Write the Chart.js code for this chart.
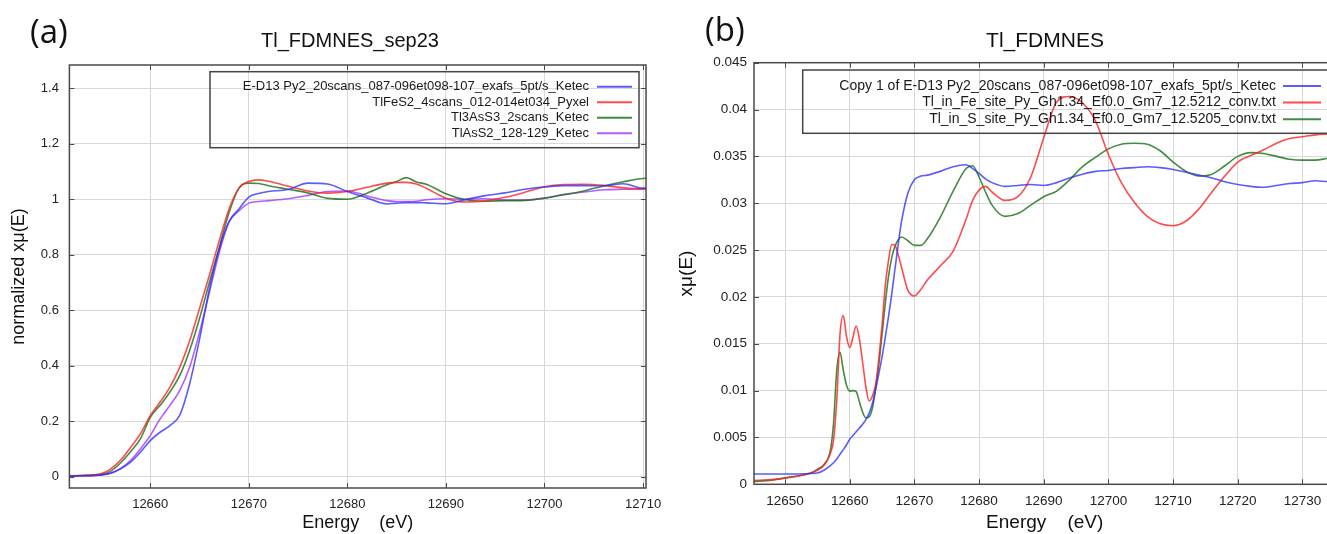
<!DOCTYPE html>
<html>
<head>
<meta charset="utf-8">
<script src="https://cdn.jsdelivr.net/npm/chart.js@4.4.1/dist/chart.umd.min.js"></script>
<style>
  html, body { margin:0; padding:0; background:#fff; width:1327px; height:534px; overflow:hidden; }
  .panel { position:absolute; top:0; height:534px; }
  #wrapA { left:0; width:680px; }
  #wrapB { left:660px; width:700px; }
  .tag { position:absolute; font-family:'Open Sans', sans-serif; color:#111; white-space:nowrap; z-index:2; }
  .title { position:absolute; font-family:'Liberation Sans', Arial, sans-serif; color:#111; white-space:nowrap; transform:translateX(-50%); z-index:2; }
</style>
</head>
<body>
<div class="tag" style="left:30px; top:14px; font-size:33px; line-height:33px;">(a)</div>
<div class="title" style="left:350px; top:29.5px; font-size:20px; line-height:20px;">Tl_FDMNES_sep23</div>
<div class="tag" style="left:705px; top:12px; font-size:33px; line-height:33px;">(b)</div>
<div class="title" style="left:1045px; top:29px; font-size:21px; line-height:21px;">Tl_FDMNES</div>
<div class="panel" id="wrapA"><canvas id="chartA" width="680" height="534"></canvas></div>
<div class="panel" id="wrapB"><canvas id="chartB" width="700" height="534"></canvas></div>
<script>
// ---- panel (a): normalized spectra ----
const energiesA = [12651, 12653, 12655, 12656, 12657, 12658, 12659, 12660, 12661, 12662, 12663, 12664, 12665, 12666, 12667, 12668, 12669, 12670, 12671, 12672, 12674, 12676, 12678, 12680, 12682, 12684, 12685, 12686, 12687, 12688, 12690, 12692, 12694, 12696, 12698, 12700, 12702, 12704, 12706, 12708, 12710, 12711];
const pyriteA = [0.002, 0.003, 0.006, 0.012, 0.028, 0.052, 0.088, 0.13, 0.16, 0.184, 0.222, 0.335, 0.495, 0.676, 0.82, 0.92, 0.965, 1.008, 1.021, 1.028, 1.035, 1.058, 1.055, 1.028, 1.005, 0.983, 0.986, 0.988, 0.988, 0.987, 0.984, 0.999, 1.013, 1.023, 1.036, 1.044, 1.049, 1.049, 1.048, 1.056, 1.04, 1.04];
const tlfes2A = [0.003, 0.004, 0.01, 0.028, 0.06, 0.105, 0.154, 0.22, 0.269, 0.323, 0.395, 0.49, 0.606, 0.726, 0.85, 0.965, 1.04, 1.064, 1.07, 1.065, 1.047, 1.03, 1.022, 1.028, 1.043, 1.058, 1.061, 1.061, 1.055, 1.04, 1.004, 0.99, 0.994, 1.007, 1.025, 1.045, 1.053, 1.054, 1.05, 1.041, 1.037, 1.037];
const tl3ass3A = [0.003, 0.004, 0.008, 0.02, 0.05, 0.09, 0.136, 0.214, 0.257, 0.305, 0.365, 0.455, 0.57, 0.70, 0.826, 0.952, 1.04, 1.058, 1.057, 1.049, 1.036, 1.023, 1.003, 1.0, 1.022, 1.052, 1.064, 1.078, 1.062, 1.054, 1.02, 0.998, 0.993, 0.995, 0.996, 1.004, 1.016, 1.03, 1.048, 1.063, 1.075, 1.076];
const tlass2A = [0.002, 0.003, 0.006, 0.013, 0.03, 0.058, 0.1, 0.148, 0.208, 0.257, 0.311, 0.395, 0.52, 0.664, 0.808, 0.918, 0.958, 0.986, 0.992, 0.995, 1.002, 1.014, 1.028, 1.03, 1.012, 0.995, 0.992, 0.992, 0.993, 0.998, 1.002, 1.0, 1.002, 0.997, 0.997, 1.004, 1.018, 1.026, 1.034, 1.036, 1.037, 1.037];
const labelsA = ['E-D13 Py2_20scans_087-096et098-107_exafs_5pt/s_Ketec', 'TlFeS2_4scans_012-014et034_Pyxel', 'Tl3AsS3_2scans_Ketec', 'TlAsS2_128-129_Ketec'];
const xTicksA = [12660, 12670, 12680, 12690, 12700, 12710];
const yTicksA = [0, 0.2, 0.4, 0.6, 0.8, 1, 1.2, 1.4];
const yLabelsA = ['0', '0.2', '0.4', '0.6', '0.8', '1', '1.2', '1.4'];

// ---- panel (b): experiment vs FDMNES ----
const energiesB = [12645, 12648, 12651, 12654, 12655, 12656, 12657, 12657.5, 12658, 12658.5, 12659, 12659.5, 12660, 12660.5, 12661, 12661.5, 12662, 12662.5, 12663, 12663.5, 12664, 12664.5, 12665, 12665.5, 12666, 12666.5, 12667, 12667.5, 12668, 12669, 12670, 12671, 12672, 12674, 12676, 12678, 12679, 12680, 12681, 12682, 12684, 12686, 12688, 12690, 12692, 12694, 12696, 12698, 12700, 12702, 12704, 12706, 12708, 12710, 12712, 12714, 12716, 12718, 12720, 12722, 12724, 12726, 12728, 12730, 12732, 12734, 12736];
const pyriteB = [0.0011, 0.0011, 0.0011, 0.00115, 0.0012, 0.0015, 0.002, 0.0023, 0.0027, 0.0032, 0.0037, 0.0042, 0.0048, 0.0052, 0.0056, 0.006, 0.0064, 0.0069, 0.0076, 0.0086, 0.0101, 0.0118, 0.0136, 0.0157, 0.0179, 0.0203, 0.023, 0.0256, 0.028, 0.0311, 0.0325, 0.0329, 0.033, 0.0334, 0.0339, 0.0341, 0.0337, 0.0332, 0.0326, 0.0322, 0.0318, 0.0319, 0.032, 0.0319, 0.0322, 0.0327, 0.0331, 0.0334, 0.0335, 0.0337, 0.0338, 0.0339, 0.0338, 0.0336, 0.0333, 0.033, 0.0327, 0.0323, 0.032, 0.0318, 0.0317, 0.0319, 0.0321, 0.0322, 0.0324, 0.0323, 0.0323];
const feSiteB = [0.0004, 0.0005, 0.00075, 0.0012, 0.0015, 0.002, 0.0033, 0.0047, 0.009, 0.016, 0.018, 0.0158, 0.0146, 0.0157, 0.0169, 0.0155, 0.013, 0.0104, 0.0089, 0.0094, 0.0106, 0.0134, 0.017, 0.0212, 0.0239, 0.0256, 0.0255, 0.0245, 0.0232, 0.0207, 0.0201, 0.0208, 0.0218, 0.0233, 0.0249, 0.0283, 0.0303, 0.0314, 0.0318, 0.0312, 0.0303, 0.0307, 0.0328, 0.037, 0.0408, 0.0414, 0.0407, 0.0388, 0.0352, 0.0322, 0.0301, 0.0286, 0.0278, 0.0276, 0.0281, 0.0294, 0.0312, 0.0329, 0.0344, 0.0351, 0.0357, 0.0364, 0.0369, 0.0371, 0.0373, 0.0374, 0.0375];
const sSiteB = [0.0003, 0.00045, 0.0008, 0.0012, 0.0016, 0.0021, 0.0036, 0.0065, 0.0122, 0.0141, 0.0122, 0.0106, 0.00995, 0.01, 0.0099, 0.0088, 0.0077, 0.0071, 0.0072, 0.0081, 0.0102, 0.0128, 0.016, 0.0193, 0.0222, 0.0242, 0.0254, 0.0261, 0.0264, 0.026, 0.0255, 0.0255, 0.0262, 0.0285, 0.0313, 0.0337, 0.034, 0.0328, 0.0312, 0.0298, 0.0286, 0.0289, 0.0298, 0.0307, 0.0313, 0.0325, 0.0339, 0.0349, 0.0358, 0.0363, 0.0364, 0.0363, 0.0356, 0.0344, 0.0334, 0.0329, 0.0331, 0.034, 0.035, 0.0354, 0.0353, 0.035, 0.0347, 0.0346, 0.0346, 0.0348, 0.0349];
const labelsB = ['Copy 1 of E-D13 Py2_20scans_087-096et098-107_exafs_5pt/s_Ketec', 'Tl_in_Fe_site_Py_Gh1.34_Ef0.0_Gm7_12.5212_conv.txt', 'Tl_in_S_site_Py_Gh1.34_Ef0.0_Gm7_12.5205_conv.txt'];
const xTicksB = [12650, 12660, 12670, 12680, 12690, 12700, 12710, 12720, 12730];
const yTicksB = [0, 0.005, 0.01, 0.015, 0.02, 0.025, 0.03, 0.035, 0.04, 0.045];
const yLabelsB = ['0', '0.005', '0.01', '0.015', '0.02', '0.025', '0.03', '0.035', '0.04', '0.045'];

const FONT = "'Liberation Sans', Arial, sans-serif";
const BLUE = 'rgba(45,45,255,0.78)', RED = 'rgba(255,35,35,0.82)', GREEN = 'rgba(25,115,25,0.82)', PURPLE = 'rgba(165,55,255,0.82)';

function pts(xs, ys) { return xs.map((x, i) => ({x: x, y: ys[i]})); }
function line(label, color, data) {
  return { label: label, data: data, borderColor: color, borderWidth: 1.6, pointRadius: 0, fill: false, cubicInterpolationMode: 'monotone' };
}

// frame + inward tick marks on all four sides
const framePlugin = {
  id: 'frame',
  afterDatasetsDraw(chart) {
    const {ctx, chartArea: a, scales: {x, y}} = chart;
    ctx.save();
    ctx.strokeStyle = '#4a4a4a';
    ctx.lineWidth = 1;
    ctx.beginPath();
    x.ticks.forEach(t => {
      const px = Math.round(x.getPixelForValue(t.value)) + 0.5;
      ctx.moveTo(px, a.bottom); ctx.lineTo(px, a.bottom - 5);
      ctx.moveTo(px, a.top); ctx.lineTo(px, a.top + 5);
    });
    y.ticks.forEach(t => {
      const py = Math.round(y.getPixelForValue(t.value)) + 0.5;
      ctx.moveTo(a.left, py); ctx.lineTo(a.left + 5, py);
      ctx.moveTo(a.right, py); ctx.lineTo(a.right - 5, py);
    });
    ctx.stroke();
    ctx.lineWidth = 1.5;
    ctx.strokeRect(a.left, a.top, a.right - a.left, a.bottom - a.top);
    ctx.restore();
  }
};

// boxed legend, text right-aligned with the line sample on its right
const boxLegend = {
  id: 'boxLegend',
  afterDatasetsDraw(chart, args, o) {
    const ctx = chart.ctx;
    ctx.save();
    ctx.strokeStyle = '#444';
    ctx.lineWidth = 1.5;
    ctx.strokeRect(o.left, o.top, o.right - o.left, o.bottom - o.top);
    ctx.font = o.size + 'px ' + FONT;
    ctx.textAlign = 'right';
    ctx.textBaseline = 'middle';
    chart.data.datasets.forEach((ds, i) => {
      const yy = o.row0 + i * o.step;
      ctx.fillStyle = '#1a1a1a';
      ctx.fillText(ds.label, o.textRight, yy);
      ctx.strokeStyle = ds.borderColor;
      ctx.lineWidth = 2;
      ctx.beginPath(); ctx.moveTo(o.line0, yy); ctx.lineTo(o.line1, yy); ctx.stroke();
    });
    ctx.restore();
  }
};

function makeChart(id, datasets, p) {
  return new Chart(document.getElementById(id), {
    type: 'line',
    data: { datasets: datasets },
    options: {
      responsive: false,
      animation: false,
      events: [],
      layout: { padding: { left: 0, top: p.top, right: p.right, bottom: 0 } },
      plugins: { legend: { display: false }, tooltip: { enabled: false }, boxLegend: p.legend },
      scales: {
        x: {
          type: 'linear', min: p.xMin, max: p.xMax,
          afterFit: s => { s.height = p.xHeight; s.paddingLeft = 0; s.paddingRight = 0; },
          afterBuildTicks: s => { s.ticks = p.xTicks.map(v => ({value: v})); },
          grid: { color: '#d8d8d8', lineWidth: 1, drawTicks: false },
          border: { display: false },
          ticks: { callback: v => String(v), padding: p.xPad, color: '#222', font: { family: FONT, size: p.tick } },
          title: { display: true, text: 'Energy    (eV)', color: '#111', padding: { top: 0, bottom: 0 }, font: { family: FONT, size: p.axis } }
        },
        y: {
          type: 'linear', min: p.yMin, max: p.yMax,
          afterFit: s => { s.width = p.yWidth; s.paddingTop = 0; s.paddingBottom = 0; },
          afterBuildTicks: s => { s.ticks = p.yTicks.map(v => ({value: v})); },
          grid: { color: '#d8d8d8', lineWidth: 1, drawTicks: false },
          border: { display: false },
          ticks: { callback: (v, i) => p.yLabels[i], padding: p.yPad, color: '#222', font: { family: FONT, size: p.tick } },
          title: { display: true, text: p.yTitle, color: '#111', padding: { top: p.yTitlePad, bottom: 0 }, font: { family: FONT, size: p.axis } }
        }
      }
    },
    plugins: [framePlugin, boxLegend]
  });
}

makeChart('chartA', [
  line(labelsA[0], BLUE, pts(energiesA, pyriteA)),
  line(labelsA[1], RED, pts(energiesA, tlfes2A)),
  line(labelsA[2], GREEN, pts(energiesA, tl3ass3A)),
  line(labelsA[3], PURPLE, pts(energiesA, tlass2A))
], {
  top: 65, right: 34, xHeight: 46, yWidth: 69.4,
  xMin: 12651.8, xMax: 12710.3, yMin: -0.041, yMax: 1.484,
  xTicks: xTicksA, yTicks: yTicksA, yLabels: yLabelsA,
  tick: 13, axis: 18, xPad: 8.4, yPad: 10.5,
  yTitle: 'normalized xμ(E)', yTitlePad: 8.4,
  legend: { left: 210, top: 71.7, right: 639, bottom: 147.7, textRight: 589, line0: 597, line1: 632, row0: 86.7, step: 15.5, size: 13 }
});

makeChart('chartB', [
  line(labelsB[0], BLUE, pts(energiesB, pyriteB)),
  line(labelsB[1], RED, pts(energiesB, feSiteB)),
  line(labelsB[2], GREEN, pts(energiesB, sSiteB))
], {
  top: 62.7, right: 24.6, xHeight: 49.7, yWidth: 94,
  xMin: 12645.2, xMax: 12735.1, yMin: 0, yMax: 0.045,
  xTicks: xTicksB, yTicks: yTicksB, yLabels: yLabelsB,
  tick: 13.5, axis: 19, xPad: 9.3, yPad: 7,
  yTitle: 'xμ(E)', yTitlePad: 15.3,
  legend: { left: 142.7, top: 70, right: 669, bottom: 133.3, textRight: 616, line0: 623, line1: 661, row0: 86, step: 16.6, size: 14 }
});
</script>
</body>
</html>
